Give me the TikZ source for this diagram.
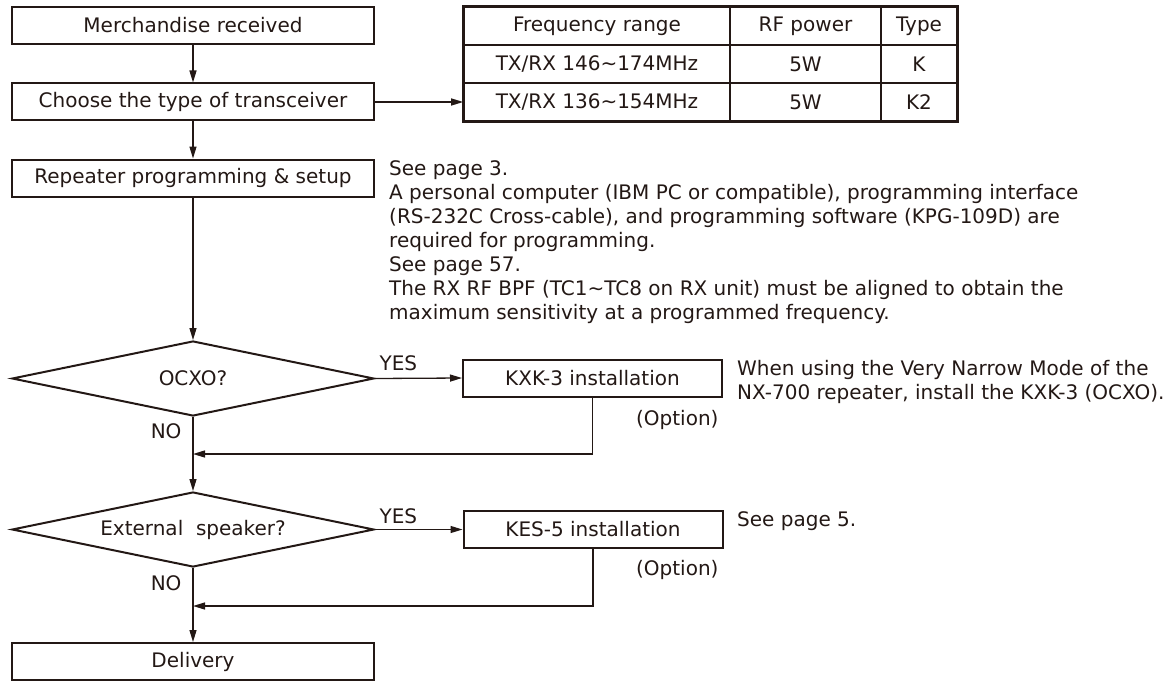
\documentclass[tikz,border=0pt]{standalone}
\usepackage{fontspec}
\setmainfont{DejaVu Sans}
\usetikzlibrary{shapes.geometric,arrows.meta}
\definecolor{ink}{HTML}{231815}
\begin{document}
\begin{tikzpicture}[x=1pt,y=-1pt,
  every node/.style={text=ink, font=\fontsize{20}{24}\selectfont},
  box/.style={draw=ink, line width=2pt, minimum width=362pt, minimum height=37pt, inner sep=0pt},
  optbox/.style={draw=ink, line width=2pt, minimum width=259pt, minimum height=37pt, inner sep=0pt},
  dia/.style={diamond, draw=ink, line width=2pt, aspect=4.8, minimum width=362pt, minimum height=75pt, inner sep=0pt},
  cell/.style={draw=ink, line width=1.6pt, minimum height=38pt, inner sep=0pt},
  conn/.style={draw=ink, line width=1.3pt},
  arr/.style={conn, -{Triangle[length=12pt,width=7pt]}},
  note/.style={anchor=north west, align=left, inner sep=0pt}
]
\useasboundingbox (0,0) rectangle (1174,682);

% main column
\node[box] (recv) at (193,25.5) {Merchandise received};
\node[box] (choose) at (193,102) {Choose the type of transceiver};
\node[box] (prog) at (193,178) {Repeater programming \& setup};
\node[dia] (ocxo) at (193,378.5) {OCXO?};
\node[dia] (ext) at (193,529.5) {External\ \ speaker?};
\node[box] (deliv) at (193,661.5) {Delivery};

% option boxes
\node[optbox] (kxk) at (592.5,378) {KXK-3 installation};
\node[optbox] (kes) at (593,529.5) {KES-5 installation};

% table
\node[cell, minimum width=266pt] (t11) at (597,26) {Frequency range};
\node[cell, minimum width=151pt] (t12) at (805.5,26) {RF power};
\node[cell, minimum width=76pt] (t13) at (919,26) {Type};
\node[cell, minimum width=266pt] (t21) at (597,64) {TX/RX 146\textasciitilde174MHz};
\node[cell, minimum width=151pt] (t22) at (805.5,64) {5W};
\node[cell, minimum width=76pt] (t23) at (919,64) {K};
\node[cell, minimum width=266pt] (t31) at (597,102) {TX/RX 136\textasciitilde154MHz};
\node[cell, minimum width=151pt] (t32) at (805.5,102) {5W};
\node[cell, minimum width=76pt] (t33) at (919,102) {K2};
\draw[ink, line width=2pt] (t11.north west) rectangle (t33.south east);

% merge points
\coordinate (m1) at (193,454);
\coordinate (m2) at (193,606);

% connectors
\draw[arr] (recv) -- (choose);
\draw[arr] (choose.east) -- (t31.west);
\draw[arr] (choose) -- (prog);
\draw[arr] (prog) -- (ocxo.north);
\draw[arr] (ocxo.east) -- (kxk.west);
\draw[arr] (ocxo.south) -- (ext.north);
\draw[arr] (kxk.south) |- (m1);
\draw[arr] (ext.east) -- (kes.west);
\draw[arr] (ext.south) -- (deliv.north);
\draw[arr] (kes.south) |- (m2);

% labels
\node[anchor=base west] (yes1) at (376,370) {YES};
\node[anchor=base west] (yes2) at (376,523) {YES};
\node[anchor=base east] (no1) at (185,438) {NO};
\node[anchor=base east] (no2) at (185,590) {NO};
\node[anchor=base east] (opt1) at (722,425) {(Option)};
\node[anchor=base east] (opt2) at (722,575) {(Option)};

% notes
\node[note] (n1) at (389,158.2) {\strut See page 3.\\
\strut A personal computer (IBM PC or compatible), programming interface\\
\strut (RS-232C Cross-cable), and programming software (KPG-109D) are\\
\strut required for programming.\\
\strut See page 57.\\
\strut The RX RF BPF (TC1\textasciitilde TC8 on RX unit) must be aligned to obtain the\\
\strut maximum sensitivity at a programmed frequency.};
\node[note] (n2) at (737,358.2) {\strut When using the Very Narrow Mode of the\\
\strut NX-700 repeater, install the KXK-3 (OCXO).};
\node[note] (n3) at (737,509.2) {\strut See page 5.};
\end{tikzpicture}
\end{document}
